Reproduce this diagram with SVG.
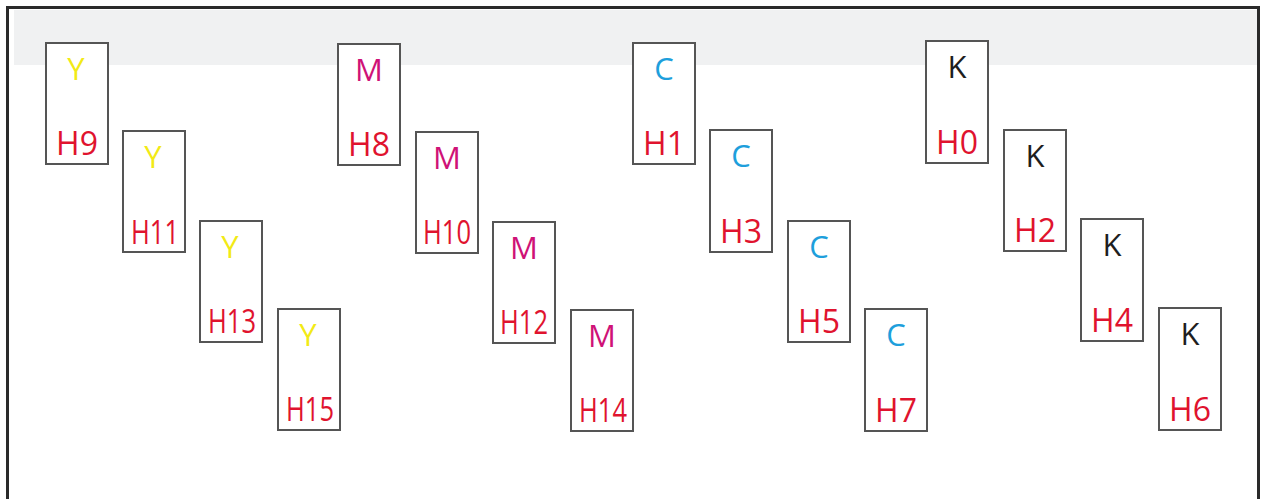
<svg xmlns="http://www.w3.org/2000/svg" width="1271" height="499" viewBox="0 0 1271 499">
<style>
.box{fill:#fff;stroke:#555;stroke-width:2}
.t{font-family:"Open Sans","Noto Sans",sans-serif;font-size:31px;text-anchor:middle}
.h{font-family:"Open Sans","Noto Sans",sans-serif;font-size:32px;text-anchor:middle;fill:#e0132e}
.y{fill:#f2ea16}.m{fill:#cf1277}.c{fill:#1e9fdc}.k{fill:#1e1e1e}
</style>
<rect x="0" y="0" width="1271" height="499" fill="#fff"/>
<rect x="14" y="10" width="1243" height="55" fill="#f0f1f2"/>
<path d="M7.5 499 V7.5 H1258.5 V499" fill="none" stroke="#2a2a2a" stroke-width="3"/>
<g id="Y9"><rect class="box" x="46" y="43" width="62" height="121"/><text class="t y" x="76" y="80">Y</text><text class="h" x="77" y="155">H9</text></g>
<g id="Y11"><rect class="box" x="123" y="131" width="62" height="121"/><text class="t y" x="153" y="168">Y</text><text class="h" x="155" y="244" textLength="48" lengthAdjust="spacingAndGlyphs">H11</text></g>
<g id="Y13"><rect class="box" x="200" y="221" width="62" height="121"/><text class="t y" x="230" y="258">Y</text><text class="h" x="232" y="333" textLength="48" lengthAdjust="spacingAndGlyphs">H13</text></g>
<g id="Y15"><rect class="box" x="278" y="309" width="62" height="121"/><text class="t y" x="308" y="346">Y</text><text class="h" x="310" y="421" textLength="48" lengthAdjust="spacingAndGlyphs">H15</text></g>
<g id="M8"><rect class="box" x="338" y="44" width="62" height="121"/><text class="t m" x="369" y="81">M</text><text class="h" x="369" y="156">H8</text></g>
<g id="M10"><rect class="box" x="416" y="132" width="62" height="121"/><text class="t m" x="447" y="169">M</text><text class="h" x="447" y="244" textLength="48" lengthAdjust="spacingAndGlyphs">H10</text></g>
<g id="M12"><rect class="box" x="493" y="222" width="62" height="121"/><text class="t m" x="524" y="259">M</text><text class="h" x="524" y="334" textLength="48" lengthAdjust="spacingAndGlyphs">H12</text></g>
<g id="M14"><rect class="box" x="571" y="310" width="62" height="121"/><text class="t m" x="602" y="347">M</text><text class="h" x="603" y="422" textLength="48" lengthAdjust="spacingAndGlyphs">H14</text></g>
<g id="C1"><rect class="box" x="633" y="43" width="62" height="121"/><text class="t c" x="664" y="80">C</text><text class="h" x="664" y="155">H1</text></g>
<g id="C3"><rect class="box" x="710" y="130" width="62" height="122"/><text class="t c" x="741" y="167">C</text><text class="h" x="741" y="243">H3</text></g>
<g id="C5"><rect class="box" x="788" y="221" width="62" height="121"/><text class="t c" x="819" y="258">C</text><text class="h" x="819" y="333">H5</text></g>
<g id="C7"><rect class="box" x="865" y="309" width="62" height="122"/><text class="t c" x="896" y="346">C</text><text class="h" x="896" y="422">H7</text></g>
<g id="K0"><rect class="box" x="926" y="41" width="62" height="122"/><text class="t k" x="957" y="78">K</text><text class="h" x="957" y="154">H0</text></g>
<g id="K2"><rect class="box" x="1004" y="130" width="62" height="121"/><text class="t k" x="1035" y="167">K</text><text class="h" x="1035" y="242">H2</text></g>
<g id="K4"><rect class="box" x="1081" y="219" width="62" height="122"/><text class="t k" x="1112" y="256">K</text><text class="h" x="1112" y="332">H4</text></g>
<g id="K6"><rect class="box" x="1159" y="308" width="62" height="122"/><text class="t k" x="1190" y="345">K</text><text class="h" x="1190" y="421">H6</text></g>
<g id="connectors"></g>
</svg>
